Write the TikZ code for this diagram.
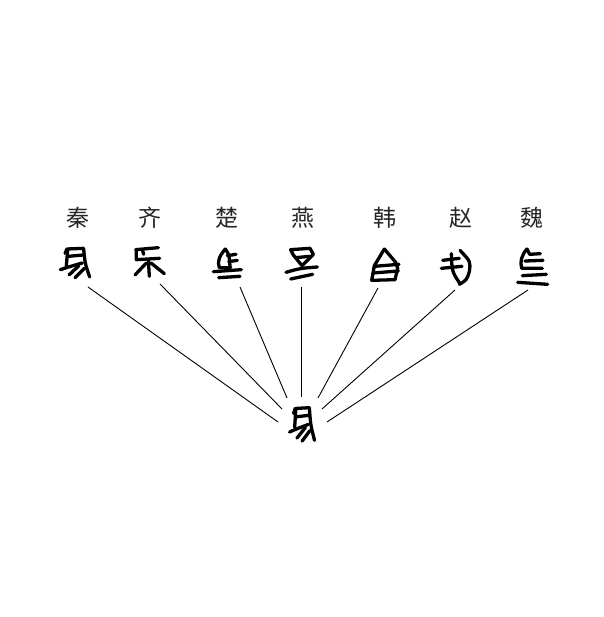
\documentclass[tikz,border=0pt]{standalone}
\usepackage{fontspec}
\newfontfamily\cjk{Noto Sans CJK SC}
\usepackage{tikz}

\tikzset{
  state/.style={font=\cjk\fontsize{23}{23}\selectfont, text=black!85, inner sep=0pt},
  glyph/.style={line width=3.3pt, line cap=round, line join=round},
  link/.style={line width=0.9pt},
  % old forms of the horse character, drawn stroke by stroke
  qinma/.pic={
    \draw[glyph] (30,55) -- (36,42) -- (86,40);
    \draw[glyph] (38,44) -- (34,92);
    \draw[glyph] (40,64) -- (84,60);
    \draw[glyph] (16,104) .. controls (40,96) .. (82,84);
    \draw[glyph] (86,42) .. controls (90,85) .. (104,126);
    \draw[glyph] (72,92) -- (42,120);
    \draw[glyph] (88,100) -- (60,128);
  },
  qima/.pic={
    \draw[glyph] (32,44) -- (100,38);
    \draw[glyph] (34,44) -- (34,74) -- (104,70);
    \draw[glyph] (52,44) -- (56,58);
    \draw[glyph] (70,74) -- (73,124);
    \draw[glyph] (64,84) -- (30,120);
    \draw[glyph] (78,84) -- (118,116);
  },
  chuma/.pic={
    \draw[glyph] (76,42) .. controls (60,60) and (50,80) .. (58,98) -- (92,98);
    \draw[glyph] (76,42) .. controls (88,60) .. (90,96);
    \draw[glyph] (82,62) -- (108,58);
    \draw[glyph] (86,80) -- (112,76);
    \draw[glyph] (40,110) -- (124,104);
    \draw[glyph] (56,128) -- (120,124);
  },
  yanma/.pic={
    \draw[glyph] (70,60) -- (62,44) -- (120,40) -- (130,58) -- (96,92) -- cycle;
    \draw[glyph] (78,68) -- (118,64);
    \draw[glyph] (48,112) .. controls (90,100) .. (142,96);
    \draw[glyph] (62,132) -- (128,118);
  },
  hanma/.pic={
    \draw[glyph] (118,42) -- (88,92) -- (80,136) -- (150,134);
    \draw[glyph] (118,42) -- (152,82) -- (158,100) -- (150,134);
    \draw[glyph] (88,94) -- (162,88);
    \draw[glyph] (84,114) -- (160,108);
  },
  zhaoma/.pic={
    \draw[glyph] (68,76) -- (118,70);
    \draw[glyph] (64,100) -- (126,94);
    \draw[glyph] (94,56) .. controls (96,110) .. (120,146);
    \draw[glyph] (120,46) .. controls (152,80) .. (148,110) .. controls (140,135) .. (118,148);
  },
  weima/.pic={
    \draw[glyph] (96,42) .. controls (80,60) and (74,80) .. (80,100) -- (142,100);
    \draw[glyph] (96,42) -- (104,58) -- (136,56);
    \draw[glyph] (90,78) -- (144,76);
    \draw[glyph] (82,122) -- (154,118);
    \draw[glyph] (68,142) -- (158,148);
  }
}

\begin{document}
\begin{tikzpicture}[x=1pt, y=-1pt]
  \useasboundingbox[fill=white] (0,0) rectangle (603,617);

  % names of the states
  \node (qin)  [state] at (78,218)  {秦};
  \node (qi)   [state] at (150,218) {齐};
  \node (chu)  [state] at (227,218) {楚};
  \node (yan)  [state] at (303,218) {燕};
  \node (han)  [state] at (385,218) {韩};
  \node (zhao) [state] at (461,218) {赵};
  \node (wei)  [state] at (532,218) {魏};

  % their forms of the character
  \pic[scale=1/3] at (55,235)  {qinma};
  \pic[scale=1/3] at (125,235) {qima};
  \pic[scale=1/3] at (200,235) {chuma};
  \pic[scale=1/3] at (270,235) {yanma};
  \pic[scale=1/3] at (345,235) {hanma};
  \pic[scale=1/3] at (420,235) {zhaoma};
  \pic[scale=1/3] at (495,235) {weima};

  % unified form in the middle
  \pic[xscale=0.284, yscale=0.38] at (285,392.5) {qinma};

  \coordinate (qin-foot)  at (88,287);
  \coordinate (qi-foot)   at (160,284);
  \coordinate (chu-foot)  at (240,287);
  \coordinate (yan-foot)  at (301,287);
  \coordinate (han-foot)  at (378,288);
  \coordinate (zhao-foot) at (455,290);
  \coordinate (wei-foot)  at (528,290);

  \coordinate (qin-end)  at (278,422);
  \coordinate (qi-end)   at (282,409);
  \coordinate (chu-end)  at (287,398);
  \coordinate (yan-end)  at (301,397);
  \coordinate (han-end)  at (318,398);
  \coordinate (zhao-end) at (322,409);
  \coordinate (wei-end)  at (327,422);

  \draw[link] (qin-foot) -- (qin-end);
  \draw[link] (qi-foot) -- (qi-end);
  \draw[link] (chu-foot) -- (chu-end);
  \draw[link] (yan-foot) -- (yan-end);
  \draw[link] (han-foot) -- (han-end);
  \draw[link] (zhao-foot) -- (zhao-end);
  \draw[link] (wei-foot) -- (wei-end);
\end{tikzpicture}
\end{document}
